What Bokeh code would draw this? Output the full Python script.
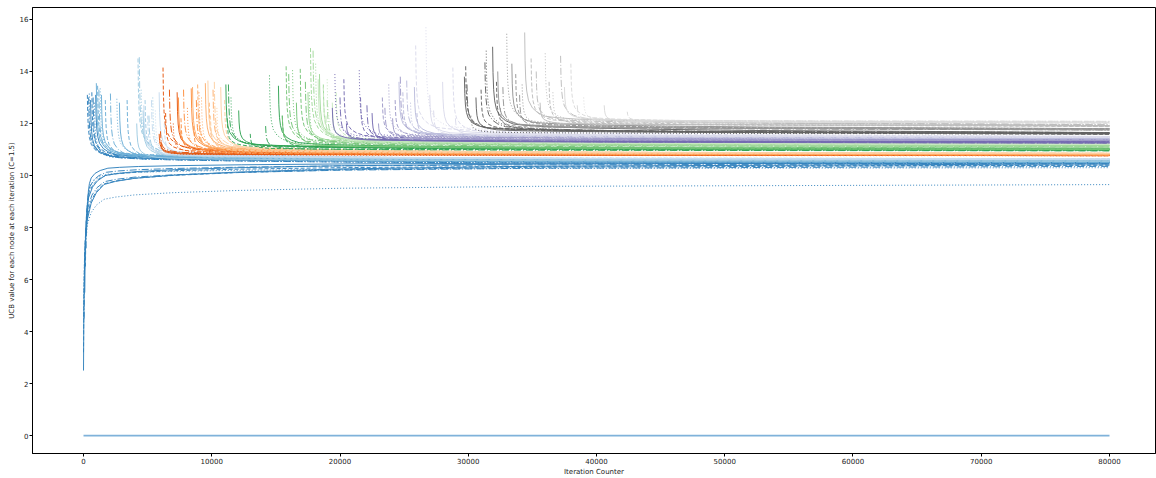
from bokeh.plotting import figure
from bokeh.models import Range1d, FixedTicker, NumeralTickFormatter
from bokeh.embed import file_html
from bokeh.resources import INLINE

# ---------------- data ----------------
# tab20c colour of each node group
GROUP_COLORS = ["#3182bd", "#6baed6", "#9ecae1", "#c6dbef",
                "#e6550d", "#fd8d3c", "#fdae6b", "#fdd0a2",
                "#31a354", "#74c476", "#a1d99b", "#c7e9c0",
                "#756bb1", "#9e9ac8", "#bcbddc", "#dadaeb",
                "#636363", "#969696", "#bdbdbd", "#d9d9d9"]

X_TICKS = [0, 10000, 20000, 30000, 40000, 50000, 60000, 70000, 80000]
Y_TICKS = [0, 2, 4, 6, 8, 10, 12, 14, 16]
LAST_ITER = 80000

# node: group, iteration at which it appears, first UCB value, UCB value at the last iteration
NODE_GROUP = (
    [0] * 17 + [1] * 10 + [2] * 8 + [3] * 6 +
    [4] * 9 + [5] * 8 + [6] * 8 + [7] * 6 +
    [8] * 10 + [9] * 8 + [10] * 7 + [11] * 6 +
    [12] * 9 + [13] * 7 + [14] * 6 + [15] * 7 +
    [16] * 10 + [17] * 8 + [18] * 8 + [19] * 6
)
NODE_START = [
    0, 0, 50, 0, 100, 150, 200, 250, 300, 300, 400, 450, 550, 650, 750, 850, 950,
    1000, 1100, 1200, 1300, 1400, 1700, 2100, 2600, 2800, 3400,
    4150, 4250, 4350, 4500, 4650, 4800, 5100, 5400,
    4700, 5000, 5300, 5600, 5900, 6300,
    5900, 6200, 6000, 5950, 6050, 6400, 6700, 7000, 7300,
    7400, 7600, 7800, 8100, 8400, 8600, 8800, 9000,
    8500, 8900, 9000, 9200, 9500, 9800, 10100, 10300,
    9700, 9900, 10200, 10400, 10700, 11000,
    11100, 11200, 11300, 11500, 12100, 13000, 14200, 14500, 15200, 15500,
    15500, 15800, 16000, 16300, 16600, 16900, 17300, 17600,
    17500, 17700, 17900, 18100, 18400, 18700, 19000,
    18300, 18700, 18900, 19000, 19400, 19700,
    19400, 20300, 20000, 19600, 20500, 21600, 22100, 21500, 22500,
    23000, 23300, 23500, 23800, 24100, 24300, 24700,
    24600, 24900, 25200, 25500, 25800, 26000,
    27000, 25900, 27300, 26700, 28000, 28800, 29000,
    29700, 29800, 29900, 30200, 30600, 31000, 31300, 31400, 31900, 32200,
    32300, 32500, 32700, 33000, 33400, 33700, 34000, 34200,
    34400, 34900, 35300, 36000, 35600, 36300, 37200, 36600,
    37500, 38000, 38500, 39000, 40600, 42400,
]
NODE_FIRST = [
    2.5, 3.2, 4.5, 4.0, 5.5, 6.5, 7.2, 7.8, 8.3, 13.1, 13.0, 13.15, 12.9, 13.2, 13.0, 12.8, 13.1,
    13.55, 13.45, 13.3, 13.35, 13.1, 12.9, 13.15, 12.95, 12.8, 12.9,
    12.0, 14.5, 14.55, 13.3, 12.5, 12.9, 12.3, 13.0,
    12.7, 12.3, 12.9, 12.5, 13.2, 12.0,
    11.6, 14.15, 11.7, 11.4, 11.3, 12.4, 13.3, 12.0, 13.2,
    13.0, 12.2, 13.3, 12.6, 13.35, 11.9, 12.9, 13.2,
    13.4, 13.5, 12.4, 13.0, 13.55, 12.8, 13.3, 12.2,
    13.65, 12.3, 13.6, 12.6, 13.4, 12.9,
    13.5, 12.2, 13.5, 13.0, 12.5, 11.6, 11.9, 13.85, 13.45, 12.3,
    12.3, 14.2, 13.9, 14.05, 12.8, 14.1, 13.6, 13.2,
    13.2, 14.9, 14.8, 14.3, 13.9, 13.5, 12.9,
    13.7, 13.4, 12.3, 13.7, 12.8, 13.2,
    12.6, 13.7, 13.0, 13.9, 12.0, 13.0, 12.7, 14.05, 12.4,
    12.0, 13.0, 12.6, 13.5, 12.2, 12.9, 13.8,
    13.6, 13.2, 13.65, 12.8, 13.4, 12.4,
    13.1, 15.0, 12.5, 15.7, 13.6, 14.15, 12.2,
    13.8, 14.2, 13.5, 12.3, 13.0, 13.3, 14.35, 14.8, 14.95, 13.6,
    14.0, 12.6, 13.4, 15.45, 14.3, 13.9, 13.1, 13.5,
    15.5, 14.5, 14.0, 14.7, 12.8, 13.6, 14.6, 13.2,
    13.4, 14.3, 12.7, 13.0, 12.7, 12.45,
]
NODE_LAST = [
    10.45, 10.40, 10.35, 9.65, 10.50, 10.40, 10.45, 10.30, 10.50, 10.50, 10.55, 10.45, 10.50, 10.55, 10.45, 10.50, 10.55,
    10.55, 10.60, 10.50, 10.55, 10.60, 10.55, 10.50, 10.60, 10.55, 10.50,
    10.55, 10.60, 10.55, 10.62, 10.60, 10.55, 10.62, 10.60,
    10.62, 10.65, 10.62, 10.65, 10.62, 10.65,
    10.78, 10.76, 10.80, 10.76, 10.78, 10.80, 10.78, 10.78, 10.76,
    10.80, 10.78, 10.80, 10.78, 10.80, 10.78, 10.80, 10.78,
    10.82, 10.80, 10.82, 10.80, 10.82, 10.80, 10.82, 10.80,
    10.85, 10.84, 10.86, 10.84, 10.86, 10.84,
    10.98, 11.02, 10.95, 11.00, 11.02, 10.98, 10.95, 11.00, 11.02, 10.98,
    11.05, 11.00, 11.10, 11.05, 11.00, 11.10, 11.05, 11.00,
    11.15, 11.10, 11.15, 11.10, 11.15, 11.10, 11.15,
    11.20, 11.22, 11.20, 11.22, 11.20, 11.22,
    11.28, 11.30, 11.25, 11.28, 11.30, 11.25, 11.28, 11.30, 11.25,
    11.35, 11.38, 11.35, 11.38, 11.35, 11.38, 11.35,
    11.42, 11.45, 11.40, 11.45, 11.42, 11.45,
    11.48, 11.50, 11.46, 11.50, 11.48, 11.46, 11.50,
    11.62, 11.58, 11.65, 11.60, 11.62, 11.65, 11.60, 11.58, 11.65, 11.62,
    11.75, 11.80, 11.78, 11.75, 11.80, 11.78, 11.75, 11.80,
    11.92, 11.88, 11.95, 11.90, 11.92, 11.88, 11.95, 11.90,
    12.05, 12.00, 12.08, 12.05, 12.02, 12.08,
]
# typical settling profile of a node's UCB curve (iterations after creation,
# share of the gap between the first and the last value still left)
SETTLE_DX = [0, 30, 80, 160, 300, 600, 1000, 1600, 2500, 4000, 7000, 12000, 20000, 35000]
SETTLE_LEFT = [1.0, 0.7, 0.5, 0.37, 0.27, 0.19, 0.14, 0.10, 0.085, 0.07, 0.055, 0.04, 0.025, 0.012]

# the node whose UCB stays at zero
ZERO_X = [0, 80000]
ZERO_Y = [0, 0]

# ---------------- figure ----------------
FONT = "DejaVu Sans"
DASHES = ["solid", "4 2", "7 2 1 2", "1 2"]

p = figure(width=1156, height=478, output_backend="svg", toolbar_location=None,
           x_range=Range1d(-3977, 83587), y_range=Range1d(-0.69, 16.46),
           min_border_left=32, min_border_right=1, min_border_top=7, min_border_bottom=23)
p.grid.visible = False
p.outline_line_color = "black"
p.outline_line_alpha = 1.0
p.outline_line_width = 1
p.background_fill_color = "white"
p.border_fill_color = "white"

# draw the nodes
idx_in_group = {}
for g, s, f, l in zip(NODE_GROUP, NODE_START, NODE_FIRST, NODE_LAST):
    k = idx_in_group.get(g, 0)
    idx_in_group[g] = k + 1
    xs = [s + dx for dx in SETTLE_DX if s + dx < LAST_ITER] + [LAST_ITER]
    ys = [l + fr * (f - l) for dx, fr in zip(SETTLE_DX, SETTLE_LEFT) if s + dx < LAST_ITER] + [l]
    p.line(xs, ys, line_color=GROUP_COLORS[g], line_width=1.0,
           line_dash=DASHES[k % 4], line_alpha=0.95)

p.line(ZERO_X, ZERO_Y, line_color="#7fb2da", line_width=1.8)

for ax in (p.xaxis[0], p.yaxis[0]):
    ax.major_label_text_font = FONT
    ax.major_label_text_font_size = "7px"
    ax.major_label_text_color = "#222222"
    ax.axis_label_text_font = FONT
    ax.axis_label_text_font_size = "7px"
    ax.axis_label_text_font_style = "normal"
    ax.axis_label_text_color = "#222222"
    ax.major_tick_out = 3
    ax.major_tick_in = 0
    ax.minor_tick_out = 0
    ax.minor_tick_in = 0
    ax.axis_line_color = "black"
    ax.major_tick_line_color = "black"
    ax.major_label_standoff = 1
    ax.axis_label_standoff = 1

p.xaxis.ticker = FixedTicker(ticks=X_TICKS)
p.yaxis.ticker = FixedTicker(ticks=Y_TICKS)
p.xaxis.formatter = NumeralTickFormatter(format="0")
p.xaxis.axis_label = "Iteration Counter"
p.yaxis.axis_label = "UCB value for each node at each iteration (C=1.5)"

open("out.html", "w").write(file_html(p, INLINE))
